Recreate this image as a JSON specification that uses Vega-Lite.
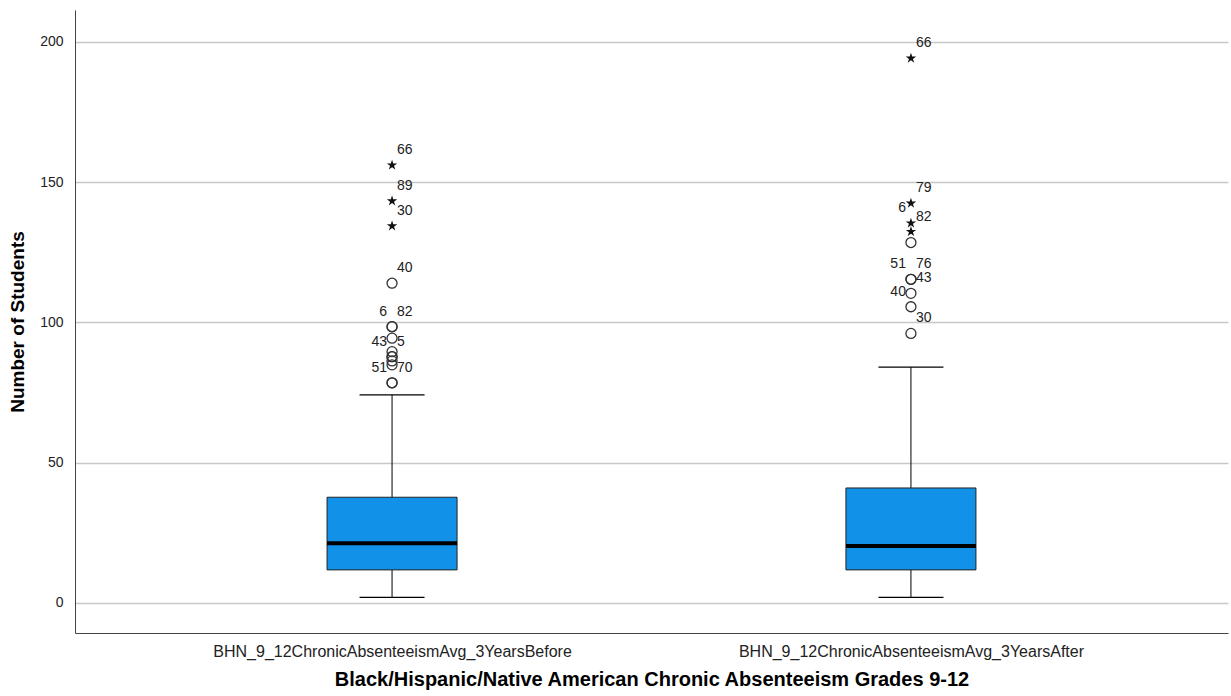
{
  "$schema": "https://vega.github.io/schema/vega-lite/v6.json",
  "width": 1153,
  "height": 623,
  "autosize": {"type": "none"},
  "padding": {"left": 75, "top": 10, "right": 3, "bottom": 63},
  "background": "white",
  "config": {
    "view": {"stroke": null},
    "font": "Liberation Sans",
    "axisY": {
      "grid": true,
      "gridColor": "#c8c8c8",
      "gridWidth": 1.5,
      "ticks": false,
      "domainColor": "#444",
      "labelFontSize": 14,
      "labelColor": "#222",
      "labelPadding": 12,
      "titleFontSize": 19,
      "titleFontWeight": "bold",
      "titleColor": "black",
      "titlePadding": 12
    }
  },
  "datasets": {
    "boxes": [
      {"variable": "BHN_9_12ChronicAbsenteeismAvg_3YearsBefore", "min": 2, "q1": 11.8, "median": 21.3, "q3": 37.7, "max": 74.2},
      {"variable": "BHN_9_12ChronicAbsenteeismAvg_3YearsAfter", "min": 2, "q1": 11.8, "median": 20.3, "q3": 41.0, "max": 84.1}
    ],
    "outliers": [
      {"variable": "BHN_9_12ChronicAbsenteeismAvg_3YearsBefore", "case": "66", "value": 156.1, "kind": "extreme", "labelSide": "right"},
      {"variable": "BHN_9_12ChronicAbsenteeismAvg_3YearsBefore", "case": "89", "value": 143.3, "kind": "extreme", "labelSide": "right"},
      {"variable": "BHN_9_12ChronicAbsenteeismAvg_3YearsBefore", "case": "30", "value": 134.4, "kind": "extreme", "labelSide": "right"},
      {"variable": "BHN_9_12ChronicAbsenteeismAvg_3YearsBefore", "case": "40", "value": 114.0, "kind": "outlier", "labelSide": "right"},
      {"variable": "BHN_9_12ChronicAbsenteeismAvg_3YearsBefore", "case": "6", "value": 98.5, "kind": "outlier", "labelSide": "left"},
      {"variable": "BHN_9_12ChronicAbsenteeismAvg_3YearsBefore", "case": "82", "value": 98.5, "kind": "outlier", "labelSide": "right"},
      {"variable": "BHN_9_12ChronicAbsenteeismAvg_3YearsBefore", "case": null, "value": 94.4, "kind": "outlier", "labelSide": null},
      {"variable": "BHN_9_12ChronicAbsenteeismAvg_3YearsBefore", "case": null, "value": 89.6, "kind": "outlier", "labelSide": null},
      {"variable": "BHN_9_12ChronicAbsenteeismAvg_3YearsBefore", "case": "43", "value": 87.8, "kind": "outlier", "labelSide": "left"},
      {"variable": "BHN_9_12ChronicAbsenteeismAvg_3YearsBefore", "case": "5", "value": 87.8, "kind": "outlier", "labelSide": "right"},
      {"variable": "BHN_9_12ChronicAbsenteeismAvg_3YearsBefore", "case": null, "value": 86.3, "kind": "outlier", "labelSide": null},
      {"variable": "BHN_9_12ChronicAbsenteeismAvg_3YearsBefore", "case": null, "value": 84.9, "kind": "outlier", "labelSide": null},
      {"variable": "BHN_9_12ChronicAbsenteeismAvg_3YearsBefore", "case": "70", "value": 78.5, "kind": "outlier", "labelSide": "right"},
      {"variable": "BHN_9_12ChronicAbsenteeismAvg_3YearsBefore", "case": "51", "value": 78.5, "kind": "outlier", "labelSide": "left"},
      {"variable": "BHN_9_12ChronicAbsenteeismAvg_3YearsAfter", "case": "66", "value": 194.2, "kind": "extreme", "labelSide": "right"},
      {"variable": "BHN_9_12ChronicAbsenteeismAvg_3YearsAfter", "case": "79", "value": 142.5, "kind": "extreme", "labelSide": "right"},
      {"variable": "BHN_9_12ChronicAbsenteeismAvg_3YearsAfter", "case": "6", "value": 135.4, "kind": "extreme", "labelSide": "left"},
      {"variable": "BHN_9_12ChronicAbsenteeismAvg_3YearsAfter", "case": "82", "value": 132.4, "kind": "extreme", "labelSide": "right"},
      {"variable": "BHN_9_12ChronicAbsenteeismAvg_3YearsAfter", "case": null, "value": 128.5, "kind": "outlier", "labelSide": null},
      {"variable": "BHN_9_12ChronicAbsenteeismAvg_3YearsAfter", "case": "76", "value": 115.4, "kind": "outlier", "labelSide": "right"},
      {"variable": "BHN_9_12ChronicAbsenteeismAvg_3YearsAfter", "case": "51", "value": 115.4, "kind": "outlier", "labelSide": "left"},
      {"variable": "BHN_9_12ChronicAbsenteeismAvg_3YearsAfter", "case": "43", "value": 110.4, "kind": "outlier", "labelSide": "right"},
      {"variable": "BHN_9_12ChronicAbsenteeismAvg_3YearsAfter", "case": "40", "value": 105.6, "kind": "outlier", "labelSide": "left"},
      {"variable": "BHN_9_12ChronicAbsenteeismAvg_3YearsAfter", "case": "30", "value": 96.1, "kind": "outlier", "labelSide": "right"}
    ]
  },
  "encoding": {
    "x": {
      "field": "variable",
      "type": "nominal",
      "sort": null,
      "scale": {"type": "point", "padding": 0.611},
      "title": "Black/Hispanic/Native American Chronic Absenteeism Grades 9-12",
      "axis": {
        "labelAngle": 0,
        "labelLimit": 0,
        "ticks": false,
        "domainColor": "#444",
        "labelFontSize": 16,
        "labelColor": "#222",
        "labelPadding": 10,
        "titleFontSize": 20,
        "titleFontWeight": "bold",
        "titleColor": "black",
        "titlePadding": 10
      }
    }
  },
  "layer": [
    {
      "data": {"name": "boxes"},
      "mark": {"type": "rule", "color": "black", "strokeWidth": 1},
      "encoding": {
        "y": {
          "field": "min",
          "type": "quantitative",
          "title": "Number of Students",
          "scale": {"domain": [-10.7, 211.4], "nice": false, "zero": false},
          "axis": {"values": [0, 50, 100, 150, 200]}
        },
        "y2": {"field": "max"}
      }
    },
    {
      "data": {"name": "boxes"},
      "mark": {"type": "tick", "color": "black", "size": 65, "thickness": 1.2, "opacity": 1},
      "encoding": {"y": {"field": "min", "type": "quantitative", "title": "Number of Students", "axis": {"values": [0, 50, 100, 150, 200]}}}
    },
    {
      "data": {"name": "boxes"},
      "mark": {"type": "tick", "color": "black", "size": 65, "thickness": 1.2, "opacity": 1},
      "encoding": {"y": {"field": "max", "type": "quantitative", "title": "Number of Students", "axis": {"values": [0, 50, 100, 150, 200]}}}
    },
    {
      "data": {"name": "boxes"},
      "mark": {"type": "bar", "size": 130, "fill": "#1192E8", "stroke": "#222", "strokeWidth": 1, "opacity": 1},
      "encoding": {
        "y": {"field": "q1", "type": "quantitative", "title": "Number of Students", "axis": {"values": [0, 50, 100, 150, 200]}},
        "y2": {"field": "q3"}
      }
    },
    {
      "data": {"name": "boxes"},
      "mark": {"type": "tick", "color": "black", "size": 130, "thickness": 4, "opacity": 1},
      "encoding": {"y": {"field": "median", "type": "quantitative", "title": "Number of Students", "axis": {"values": [0, 50, 100, 150, 200]}}}
    },
    {
      "data": {"name": "outliers"},
      "transform": [{"filter": "datum.kind == 'outlier'"}],
      "mark": {"type": "point", "shape": "circle", "filled": false, "stroke": "#333", "strokeWidth": 1.3, "size": 100, "opacity": 1},
      "encoding": {"y": {"field": "value", "type": "quantitative", "title": "Number of Students", "axis": {"values": [0, 50, 100, 150, 200]}}}
    },
    {
      "data": {"name": "outliers"},
      "transform": [{"filter": "datum.kind == 'extreme'"}],
      "mark": {"type": "point", "shape": "M0,-1L0.225,-0.309L0.951,-0.309L0.363,0.118L0.588,0.809L0,0.382L-0.588,0.809L-0.363,0.118L-0.951,-0.309L-0.225,-0.309Z", "filled": true, "fill": "#111", "stroke": null, "size": 120, "opacity": 1},
      "encoding": {"y": {"field": "value", "type": "quantitative", "title": "Number of Students", "axis": {"values": [0, 50, 100, 150, 200]}}}
    },
    {
      "data": {"name": "outliers"},
      "transform": [{"filter": "datum.labelSide == 'right'"}],
      "mark": {"type": "text", "align": "left", "baseline": "middle", "dx": 5, "dy": -15, "fontSize": 14, "color": "#222"},
      "encoding": {
        "y": {"field": "value", "type": "quantitative", "title": "Number of Students", "axis": {"values": [0, 50, 100, 150, 200]}},
        "text": {"field": "case"}
      }
    },
    {
      "data": {"name": "outliers"},
      "transform": [{"filter": "datum.labelSide == 'left'"}],
      "mark": {"type": "text", "align": "right", "baseline": "middle", "dx": -5, "dy": -15, "fontSize": 14, "color": "#222"},
      "encoding": {
        "y": {"field": "value", "type": "quantitative", "title": "Number of Students", "axis": {"values": [0, 50, 100, 150, 200]}},
        "text": {"field": "case"}
      }
    }
  ]
}
